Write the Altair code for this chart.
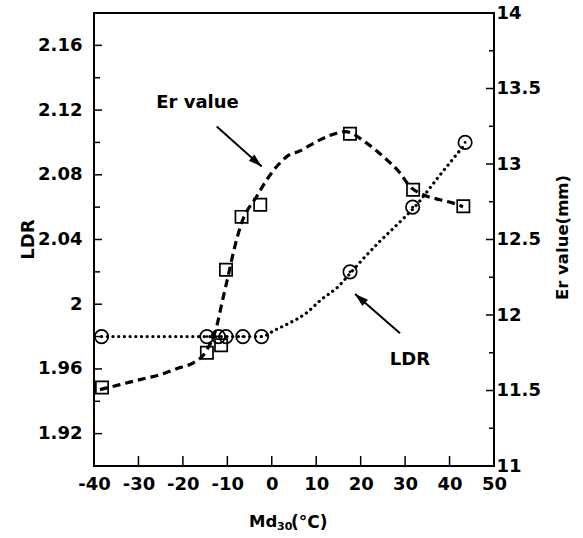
import altair as alt
import pandas as pd

# ---------------- data ----------------
# LDR markers (circles)
ldr_x = [-38.3, -14.6, -12.0, -10.3, -6.5, -2.3, 17.6, 31.7, 43.5]
ldr_y = [1.98, 1.98, 1.98, 1.98, 1.98, 1.98, 2.02, 2.06, 2.10]
# Er value markers (squares)
er_x = [-38.2, -14.6, -11.4, -10.3, -6.8, -2.6, 17.6, 31.8, 43.1]
er_y = [11.52, 11.75, 11.80, 12.30, 12.65, 12.73, 13.20, 12.83, 12.72]

# drawn (smoothed) curves
ldr_curve_x = [-38.3, -2.3, 0.7, 3.7, 7.5, 11.2, 15.0, 17.6, 20.2, 24.0, 27.0, 30.0, 31.8, 37.6, 43.5]
ldr_curve_y = [1.980, 1.980, 1.984, 1.988, 1.994, 2.003, 2.011, 2.019, 2.027, 2.038, 2.046, 2.054, 2.059, 2.079, 2.099]

er_curve_x = [-38.65, -34.15, -29.65, -25.15, -20.65, -17.66, -14.8, -12.39, -11.2, -9.85,
              -8.5, -6.77, -3.39, -1.14, 1.11, 3.36, 6.35, 10.85, 14.61, 16.48,
              21.36, 25.09, 28.85, 31.1, 34.09, 37.85, 40.84, 43.03]
er_curve_y = [11.506, 11.539, 11.572, 11.605, 11.652, 11.683, 11.759, 11.925, 12.082, 12.254,
              12.432, 12.611, 12.785, 12.895, 12.983, 13.049, 13.087, 13.160, 13.204, 13.215,
              13.138, 13.049, 12.940, 12.851, 12.796, 12.763, 12.741, 12.717]

# axes
x_ticks = [-40, -30, -20, -10, 0, 10, 20, 30, 40, 50]
ldr_ticks = [1.92, 1.96, 2.0, 2.04, 2.08, 2.12, 2.16]
ldr_minor = [1.90, 1.94, 1.98, 2.02, 2.06, 2.10, 2.14, 2.18]
er_ticks = [11, 11.5, 12, 12.5, 13, 13.5, 14]
er_minor = [11.25, 11.75, 12.25, 12.75, 13.25, 13.75]

# annotations
er_arrow = {"x": [-12.39], "y": [13.248], "x2": [-2.27], "y2": [12.983], "ang": [131.6]}
ldr_arrow = {"x": [28.85], "y": [1.982], "x2": [18.73], "y2": [2.0063], "ang": [311.1]}
er_label = {"x": [-16.7], "y": [13.403], "t": ["Er value"]}
ldr_label = {"x": [31.1], "y": [1.9655], "t": ["LDR"]}

FONT = "DejaVu Sans"

# ---------------- scales / axes ----------------
xscale = alt.Scale(domain=[-40, 50], nice=False, zero=False)
ldr_scale = alt.Scale(domain=[1.90, 2.18], nice=False, zero=False)
er_scale = alt.Scale(domain=[11, 14], nice=False, zero=False)

common = dict(ticks=False, tickSize=0, domain=False, grid=False,
              labelFont=FONT, labelFontWeight="bold", labelFontSize=18,
              labelColor="black", labelOverlap=False, labelFlush=False,
              titleFont=FONT, titleFontWeight="bold", titleColor="black")

xaxis = alt.Axis(values=x_ticks, labelExpr="'' + datum.value", labelPadding=9,
                 title=None, **common)
ldr_axis = alt.Axis(orient="left", values=ldr_ticks, format="~g", labelPadding=12,
                    title="LDR", titleAngle=270, titleFontSize=18,
                    titleX=-66, titleY=226, titleAlign="center", titleBaseline="middle",
                    **common)
er_axis = alt.Axis(orient="right", values=er_ticks, format="~g", labelPadding=2,
                   title="Er value(mm)", titleAngle=270, titleFontSize=16.5,
                   titleX=68, titleY=224, titleAlign="center", titleBaseline="middle",
                   **common)

X = lambda f="x": alt.X(f"{f}:Q", scale=xscale, axis=xaxis)
YL = lambda f="y": alt.Y(f"{f}:Q", scale=ldr_scale, axis=ldr_axis)
YE = lambda f="y": alt.Y(f"{f}:Q", scale=er_scale, axis=er_axis)

ARROW = "M0,0L-0.42,1.35L0.42,1.35Z"

# ---------------- LDR group ----------------
ldr_pts = pd.DataFrame({"x": ldr_x, "y": ldr_y})
ldr_curve = pd.DataFrame({"x": ldr_curve_x, "y": ldr_curve_y})

ldr_line = alt.Chart(ldr_curve).mark_line(
    color="black", strokeWidth=3.2, strokeDash=[0.1, 5.6], strokeCap="round",
    interpolate="monotone").encode(x=X(), y=YL())
ldr_circ = alt.Chart(ldr_pts).mark_point(
    shape="circle", size=180, filled=False, color="black", strokeWidth=1.7,
    opacity=1).encode(x=X(), y=YL())
ldr_dot = alt.Chart(ldr_pts).mark_point(
    shape="circle", size=8, filled=True, color="black", opacity=1).encode(x=X(), y=YL())

ldr_major_t = alt.Chart(pd.DataFrame({"y": ldr_ticks})).mark_rule(
    color="black", strokeWidth=1.5).encode(y=YL(), x=alt.value(0), x2=alt.value(8))
ldr_minor_t = alt.Chart(pd.DataFrame({"y": ldr_minor})).mark_rule(
    color="black", strokeWidth=1.5).encode(y=YL(), x=alt.value(0), x2=alt.value(6))
x_t = alt.Chart(pd.DataFrame({"x": x_ticks})).mark_rule(
    color="black", strokeWidth=1.5).encode(x=X(), y=alt.value(453), y2=alt.value(443))

la = pd.DataFrame(ldr_arrow)
ldr_shaft = alt.Chart(la).mark_rule(color="black", strokeWidth=2).encode(
    x=X(), y=YL(), x2="x2:Q", y2="y2:Q")
ldr_head = alt.Chart(la).mark_point(
    shape=ARROW, size=400, filled=True, color="black", opacity=1).encode(
    x=X("x2"), y=YL("y2"), angle=alt.Angle("ang:Q", scale=None))
ldr_text = alt.Chart(pd.DataFrame(ldr_label)).mark_text(
    font=FONT, fontWeight="bold", fontSize=18, color="black", baseline="middle").encode(
    x=X(), y=YL(), text="t:N")

x_title = alt.Chart(pd.DataFrame({"t": ["Md"]})).mark_text(
    font=FONT, fontWeight="bold", fontSize=16.5, color="black", align="left",
    baseline="alphabetic").encode(text="t:N", x=alt.value(155), y=alt.value(514))
x_sub = alt.Chart(pd.DataFrame({"t": ["30"]})).mark_text(
    font=FONT, fontWeight="bold", fontSize=11, color="black", align="left",
    baseline="alphabetic").encode(text="t:N", x=alt.value(183), y=alt.value(517))
x_unit = alt.Chart(pd.DataFrame({"t": ["(°C)"]})).mark_text(
    font=FONT, fontWeight="bold", fontSize=17, color="black", align="left",
    baseline="alphabetic").encode(text="t:N", x=alt.value(197), y=alt.value(515))

ldr_group = alt.layer(ldr_line, ldr_circ, ldr_dot, ldr_major_t, ldr_minor_t, x_t,
                      ldr_shaft, ldr_head, ldr_text, x_title, x_sub, x_unit)

# ---------------- Er group ----------------
er_pts = pd.DataFrame({"x": er_x, "y": er_y})
er_curve = pd.DataFrame({"x": er_curve_x, "y": er_curve_y})

er_line = alt.Chart(er_curve).mark_line(
    color="black", strokeWidth=3.2, strokeDash=[8, 5],
    interpolate="monotone").encode(x=X(), y=YE())
er_sq = alt.Chart(er_pts).mark_point(
    shape="square", size=150, filled=False, color="black", strokeWidth=1.7,
    opacity=1).encode(x=X(), y=YE())

er_major_t = alt.Chart(pd.DataFrame({"y": er_ticks})).mark_rule(
    color="black", strokeWidth=1.5).encode(y=YE(), x=alt.value(400), x2=alt.value(392))
er_minor_t = alt.Chart(pd.DataFrame({"y": er_minor})).mark_rule(
    color="black", strokeWidth=1.5).encode(y=YE(), x=alt.value(400), x2=alt.value(395))

ea = pd.DataFrame(er_arrow)
er_shaft = alt.Chart(ea).mark_rule(color="black", strokeWidth=2).encode(
    x=X(), y=YE(), x2="x2:Q", y2="y2:Q")
er_head = alt.Chart(ea).mark_point(
    shape=ARROW, size=400, filled=True, color="black", opacity=1).encode(
    x=X("x2"), y=YE("y2"), angle=alt.Angle("ang:Q", scale=None))
er_text = alt.Chart(pd.DataFrame(er_label)).mark_text(
    font=FONT, fontWeight="bold", fontSize=18, color="black", baseline="middle").encode(
    x=X(), y=YE(), text="t:N")

er_group = alt.layer(er_line, er_sq, er_major_t, er_minor_t, er_shaft, er_head, er_text)

chart = alt.layer(ldr_group, er_group).resolve_scale(y="independent").properties(
    width=400, height=453,
    autosize=alt.AutoSizeParams(type="none"),
    padding={"left": 94, "top": 13, "right": 89, "bottom": 72},
    background="white",
).configure_view(stroke="black", strokeWidth=2)

chart.save("out.html", embed_options={"renderer": "svg", "actions": False})
